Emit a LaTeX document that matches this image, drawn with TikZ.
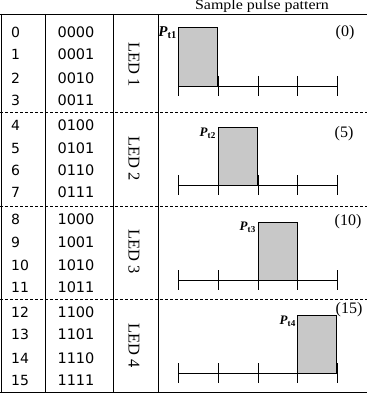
\documentclass[tikz,border=0pt]{standalone}
\usepackage{fontspec}
\setmainfont{Liberation Serif}
\newfontfamily\digitfont{DejaVu Sans}
\begin{document}
\begin{tikzpicture}[x=1pt,y=-1pt,
  rule/.style={line width=0.9pt},
  dashrule/.style={line width=0.8pt,dash pattern=on 3pt off 2pt},
  axis/.style={line width=0.9pt},
  pulse/.style={draw,line width=0.9pt,fill={rgb,255:red,200;green,200;blue,200}},
  num/.style={font=\digitfont\fontsize{14}{16}\selectfont,inner sep=0pt,anchor=west},
  bin/.style={font=\digitfont\fontsize{14.5}{16}\selectfont,inner sep=0pt},
  led/.style={font=\fontsize{16.5}{18}\selectfont,rotate=-90,inner sep=0pt},
  idx/.style={font=\fontsize{16}{18}\selectfont,inner sep=0pt},
  plabel/.style={inner sep=0pt,anchor=east}]
\useasboundingbox (0,0) rectangle (367,393);
% title
\node[font=\fontsize{14}{16}\selectfont,inner sep=0pt,anchor=base,xscale=1.14] (title) at (262,10) {Sample pulse pattern};
% frame
\draw[rule] (0,14) -- (367,14);
\draw[rule] (0,392) -- (367,392);
\foreach \x in {1,45,113,158} \draw[rule] (\x,14) -- (\x,392);
\foreach \y in {112,206,299} \draw[dashrule] (0,\y) -- (367,\y);
% numbers
\foreach \n/\b/\y in {0/0000/32,1/0001/54,2/0010/78,3/0011/100,
                      4/0100/125,5/0101/148,6/0110/170,7/0111/192,
                      8/1000/219,9/1001/242,10/1010/265,11/1011/287,
                      12/1100/312,13/1101/334,14/1110/358,15/1111/380}{
  \node[num] (n\n) at (11,\y) {\n};
  \node[bin] (b\n) at (76,\y) {\b};
}
% LED labels
\node[led] (led1) at (134,65) {LED 1};
\node[led] (led2) at (134,159) {LED 2};
\node[led] (led3) at (134,252) {LED 3};
\node[led] (led4) at (134,346) {LED 4};
% pulse rows
\foreach \r/\ay/\top/\bx in {1/86/27/178,2/185/127/218,3/280/222/258,4/373/315/297}{
  \draw[pulse] (\bx,\top) rectangle (\bx+39.5,\ay);
  \draw[axis] (178,\ay) -- (337,\ay);
  \foreach \tx in {178,218,258,297,337} \draw[axis] (\tx,\ay-10) -- (\tx,\ay+10);
}
% pulse labels
\node[plabel,font=\fontsize{15}{17}\selectfont] (p1) at (177,33) {\textbf{\textit{P}}\textsubscript{\textbf{t1}}};
\node[plabel,font=\fontsize{13}{15}\selectfont] (p2) at (216,133) {\textbf{\textit{P}}\textsubscript{\textbf{t2}}};
\node[plabel,font=\fontsize{13}{15}\selectfont] (p3) at (256,227) {\textbf{\textit{P}}\textsubscript{\textbf{t3}}};
\node[plabel,font=\fontsize{13}{15}\selectfont] (p4) at (296,321) {\textbf{\textit{P}}\textsubscript{\textbf{t4}}};
% pattern indices
\node[idx] (i0) at (345,33) {(0)};
\node[idx] (i5) at (344,134) {(5)};
\node[idx] (i10) at (348,222) {(10)};
\node[idx] (i15) at (349,310) {(15)};
\end{tikzpicture}
\end{document}
